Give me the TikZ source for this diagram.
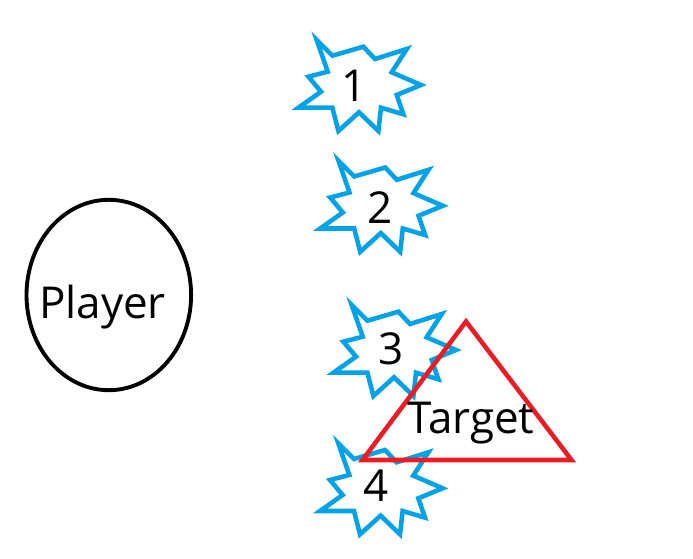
\documentclass[tikz,border=0pt]{standalone}
\usepackage{fontspec}
\setmainfont{Open Sans}
\definecolor{starblue}{RGB}{0,162,232}
\definecolor{trired}{RGB}{237,28,36}
\tikzset{
  burst/.style={draw=starblue, line width=3.4pt, fill=white, line join=miter},
  lbl/.style={font=\fontsize{33}{36}\selectfont, inner sep=0pt, anchor=base},
  explosion/.pic={
    \draw[burst] (-43,-45.5) -- (-27.3,-29.8) -- (3.7,-38.8) -- (15.3,-26.5)
      -- (47,-36.5) -- (32,-13.2) -- (61.3,-0.5) -- (37,9.5) -- (43.7,28.8)
      -- (21.3,22.2) -- (18.7,45.5) -- (-0.7,26.8) -- (-21.3,45.5)
      -- (-27.3,22.2) -- (-61.3,22.2) -- (-38.7,6.2) -- (-51.3,-8.8)
      -- (-32,-13.8) -- cycle;
  }
}
\begin{document}
\begin{tikzpicture}[x=0.75pt,y=-0.75pt]
\useasboundingbox (0,0) rectangle (693,559);
% player
\draw[line width=2.9pt] (108.8,295) ellipse [x radius=82.3, y radius=95.2];
\node[lbl] (player) at (102.5,319) {Player};
% explosions
\pic at (359.7,85.5) {explosion};
\node[lbl] (n1) at (354,101.7) {1};
\pic at (381.5,206.3) {explosion};
\node[lbl] (n2) at (380,223.3) {2};
\pic at (394.7,350.5) {explosion};
\node[lbl] (n3) at (391,365) {3};
\pic at (381.3,488.8) {explosion};
\node[lbl] (n4) at (375.8,501.7) {4};
% target
\draw[trired, line width=3.4pt, line join=miter] (466,321.5) -- (571.5,460) -- (362.5,460) -- cycle;
\node[lbl] (target) at (470.8,433.3) {Target};
\end{tikzpicture}
\end{document}
